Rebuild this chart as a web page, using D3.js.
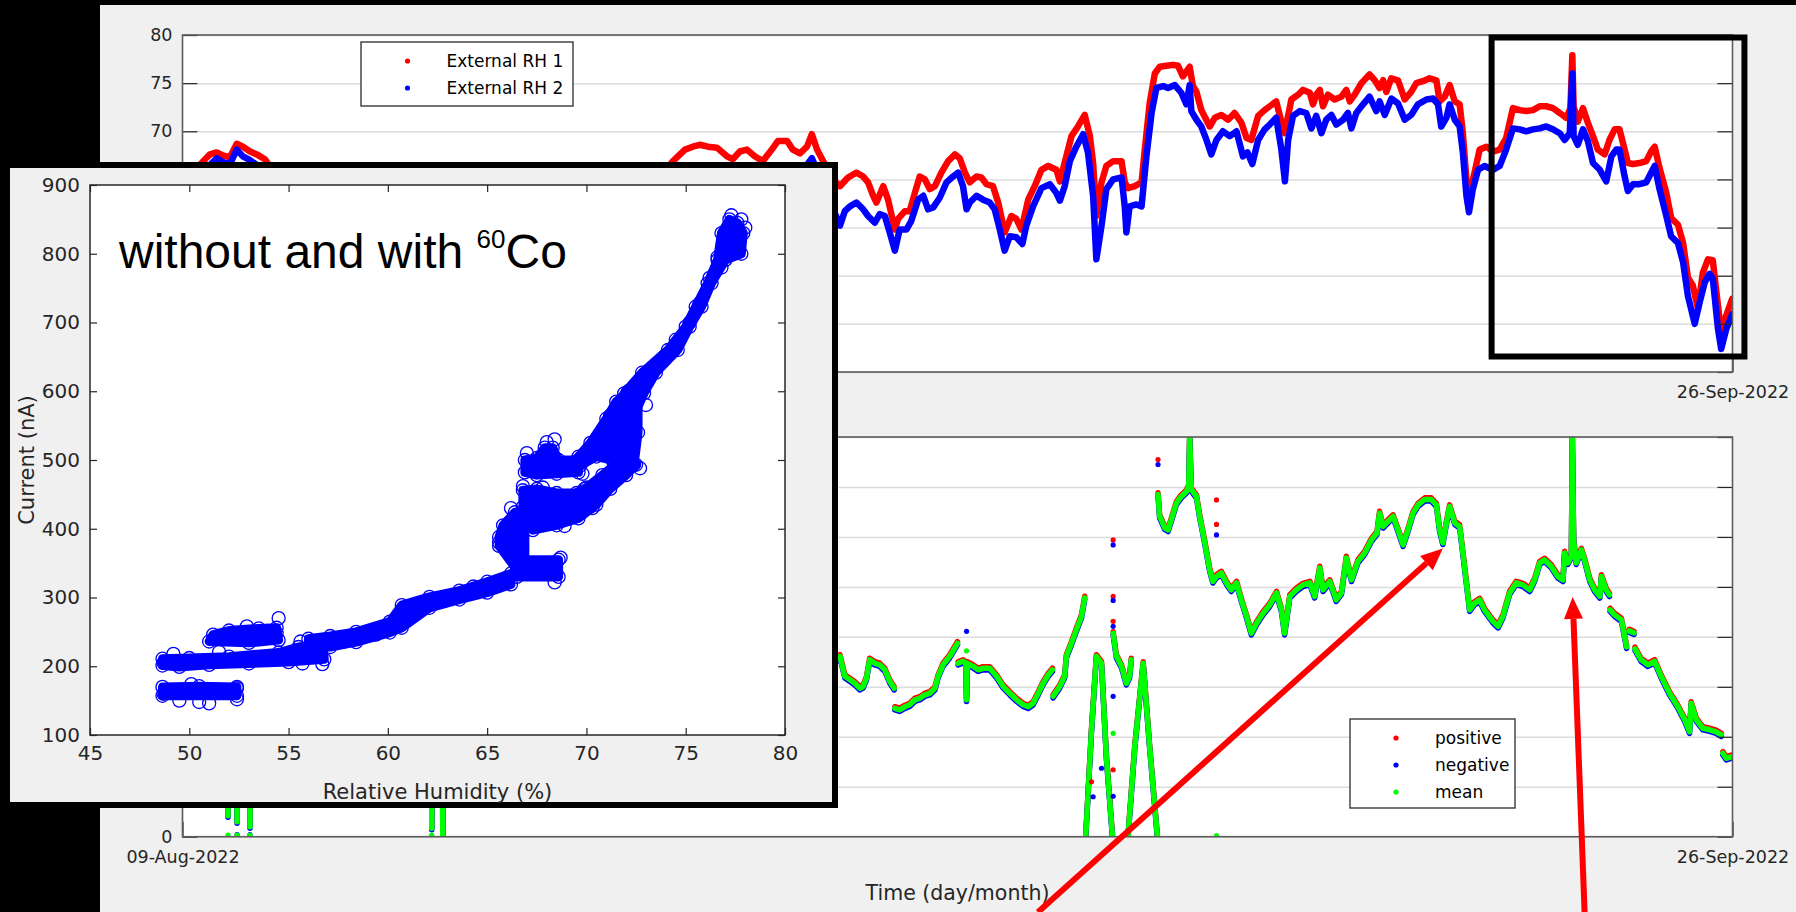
<!DOCTYPE html>
<html>
<head>
<meta charset="utf-8">
<script src="https://cdn.jsdelivr.net/npm/d3@7"></script>
<style>
  html, body { margin: 0; padding: 0; background: #000; }
  svg { display: block; }
</style>
</head>
<body>
<div id="chart"></div>
<script>
// Humidity / current monitoring, 09-Aug-2022 .. 26-Sep-2022
// time values are days after 09-Aug-2022 00:00

// ---- top panel: external RH (%)
const rh1 = [
  [0.00,64.5],[0.35,65.8],[0.70,67.1],[0.85,67.6],[1.06,67.8],[1.25,67.5],[1.47,67.3],[1.68,68.7],[1.87,68.4],[2.09,67.9],
  [2.30,67.6],[2.55,67.1],[2.90,65.4],[4.50,63.0],[7.00,61.5],[10.0,62.0],[12.5,63.5],[14.6,64.5],[15.19,66.9],[15.56,68.1],
  [15.80,68.4],[16.02,68.6],[16.27,68.4],[16.55,68.3],[16.86,67.4],[17.04,67.1],[17.26,67.9],[17.48,68.1],[17.72,67.4],[17.97,66.9],
  [18.25,68.1],[18.44,69.0],[18.72,69.0],[18.90,68.1],[19.12,67.7],[19.34,68.4],[19.49,69.7],[19.65,68.1],[19.81,67.1],[20.10,65.2],
  [20.36,64.3],[20.61,65.2],[20.87,65.7],[21.08,65.3],[21.23,64.7],[21.39,63.3],[21.49,62.6],[21.70,64.3],[21.85,62.9],[22.06,59.8],
  [22.16,60.9],[22.37,61.7],[22.52,61.7],[22.68,63.6],[22.83,65.3],[22.99,65.0],[23.14,64.0],[23.30,64.3],[23.50,65.7],[23.71,66.9],
  [23.92,67.6],[24.07,67.2],[24.23,65.7],[24.38,64.7],[24.59,65.3],[24.74,65.2],[24.90,64.5],[25.10,64.3],[25.26,62.6],[25.46,59.5],
  [25.67,61.2],[25.82,60.9],[25.98,59.8],[26.19,62.9],[26.39,64.3],[26.60,66.0],[26.81,66.4],[27.06,66.0],[27.17,64.8],[27.37,67.4],
  [27.53,69.5],[27.73,70.5],[27.94,71.7],[28.10,69.5],[28.20,66.7],[28.30,61.2],[28.46,64.7],[28.61,66.4],[28.82,66.9],[29.08,66.9],
  [29.18,64.7],[29.28,64.1],[29.49,64.3],[29.70,64.7],[29.80,68.1],[29.95,72.9],[30.11,76.0],[30.26,76.7],[30.47,76.8],[30.68,76.9],
  [30.83,76.8],[30.98,75.7],[31.19,76.7],[31.29,74.7],[31.40,74.1],[31.55,72.2],[31.81,70.5],[31.97,71.4],[32.17,71.7],[32.38,71.2],
  [32.58,71.9],[32.79,70.9],[32.95,69.3],[33.10,69.1],[33.31,71.6],[33.51,72.2],[33.67,72.6],[33.87,73.1],[34.03,71.0],[34.13,69.8],
  [34.34,73.3],[34.55,73.8],[34.70,74.3],[34.91,74.0],[35.01,72.8],[35.11,73.8],[35.22,74.3],[35.32,72.6],[35.47,73.8],[35.68,73.3],
  [35.89,73.6],[36.04,74.3],[36.15,73.1],[36.30,73.8],[36.51,75.0],[36.76,75.9],[36.92,75.3],[37.07,74.5],[37.18,75.3],[37.28,74.1],
  [37.43,75.5],[37.64,75.3],[37.85,73.3],[38.05,74.1],[38.21,75.0],[38.41,75.2],[38.62,75.5],[38.83,75.3],[38.93,73.1],[39.09,73.6],
  [39.24,74.8],[39.40,73.1],[39.55,72.8],[39.65,69.8],[39.76,65.0],[39.86,63.6],[40.01,65.7],[40.17,68.1],[40.38,68.4],[40.58,67.9],
  [40.79,68.1],[40.99,69.3],[41.20,72.4],[41.41,72.2],[41.61,72.1],[41.82,72.2],[42.03,72.6],[42.23,72.6],[42.44,72.4],[42.65,71.9],
  [42.85,71.4],[42.98,72.4],[43.04,77.9],[43.08,72.6],[43.21,71.0],[43.37,72.4],[43.52,70.9],[43.68,69.5],[43.83,68.1],[44.04,67.6],
  [44.19,69.1],[44.35,70.2],[44.50,70.2],[44.66,68.1],[44.76,66.7],[44.92,66.6],[45.12,66.7],[45.33,66.9],[45.48,67.9],[45.59,68.4],
  [45.74,66.2],[45.95,63.6],[46.10,61.0],[46.31,60.3],[46.47,58.4],[46.62,54.8],[46.77,54.0],[46.93,51.6],[47.08,55.3],[47.24,56.7],
  [47.39,56.6],[47.55,51.9],[47.65,49.1],[47.81,50.9],[47.99,52.6]
];
const rh2 = [
  [0.00,62.5],[0.50,64.5],[0.85,66.5],[1.06,67.2],[1.25,66.8],[1.47,66.6],[1.68,68.1],[1.87,67.4],[2.09,67.0],[2.30,66.5],
  [2.60,64.8],[4.50,61.0],[7.00,59.5],[10.0,60.0],[12.5,61.0],[14.6,62.5],[15.56,65.5],[16.02,66.2],[16.55,66.0],[17.26,65.5],
  [18.44,66.4],[18.72,66.4],[19.12,65.5],[19.49,67.2],[19.81,64.8],
  [20.36,60.2],[20.51,61.7],[20.67,62.2],[20.87,62.6],[21.08,61.9],[21.23,61.2],[21.44,60.5],[21.59,61.4],[21.75,61.2],[21.90,59.5],
  [22.06,57.6],[22.21,59.8],[22.42,59.8],[22.57,60.7],[22.78,62.9],[22.94,63.3],[23.09,61.9],[23.25,62.1],[23.45,63.1],[23.66,64.7],
  [23.86,65.3],[24.02,65.7],[24.17,64.3],[24.28,61.9],[24.38,62.6],[24.59,63.3],[24.79,62.9],[25.00,62.6],[25.15,61.9],[25.31,59.8],
  [25.46,57.6],[25.62,59.1],[25.82,59.0],[26.01,58.3],[26.13,60.2],[26.34,62.2],[26.60,64.1],[26.86,64.5],[27.06,63.6],[27.17,62.8],
  [27.32,64.3],[27.48,66.9],[27.68,68.4],[27.89,69.7],[28.04,67.8],[28.20,63.3],[28.30,56.7],[28.46,60.2],[28.61,64.0],[28.82,65.0],
  [29.08,65.2],[29.18,62.2],[29.23,59.5],[29.33,62.2],[29.54,62.4],[29.70,62.2],[29.85,67.4],[30.01,71.9],[30.16,74.5],[30.37,74.7],
  [30.52,74.5],[30.73,74.8],[30.93,74.0],[31.09,72.8],[31.19,74.8],[31.24,72.1],[31.40,71.2],[31.55,70.5],[31.71,69.1],[31.86,67.6],
  [32.02,69.1],[32.22,70.0],[32.43,69.5],[32.64,70.0],[32.84,67.4],[32.98,67.8],[33.13,66.6],[33.31,69.1],[33.51,70.2],[33.67,70.7],
  [33.87,71.4],[34.03,68.1],[34.14,64.8],[34.24,69.1],[34.39,71.6],[34.60,72.1],[34.80,71.9],[34.96,70.3],[35.11,71.6],[35.27,69.8],
  [35.42,71.2],[35.58,71.7],[35.73,70.7],[35.94,71.2],[36.09,71.9],[36.20,70.3],[36.35,71.9],[36.56,72.8],[36.76,73.6],[36.97,72.1],
  [37.07,73.1],[37.23,71.7],[37.44,73.4],[37.64,72.9],[37.85,71.2],[38.05,71.7],[38.26,72.8],[38.52,73.3],[38.73,73.4],[38.88,72.8],
  [38.98,70.5],[39.14,71.4],[39.24,72.8],[39.40,71.2],[39.55,70.5],[39.65,67.8],[39.76,63.3],[39.84,61.6],[39.96,64.0],[40.12,66.0],
  [40.32,66.4],[40.58,66.0],[40.79,66.4],[40.99,68.1],[41.20,70.3],[41.41,70.2],[41.61,70.0],[41.82,70.2],[42.03,70.3],[42.23,70.5],
  [42.44,70.2],[42.65,69.8],[42.80,69.1],[42.96,69.8],[43.04,76.0],[43.08,69.5],[43.21,68.6],[43.37,70.2],[43.52,69.0],[43.68,66.7],
  [43.89,66.0],[44.09,64.8],[44.25,67.4],[44.40,68.1],[44.50,68.1],[44.66,65.3],[44.76,63.8],[44.92,64.5],[45.12,64.5],[45.33,64.7],
  [45.48,65.7],[45.59,66.4],[45.74,64.0],[45.95,61.2],[46.10,59.1],[46.31,58.4],[46.47,56.4],[46.62,52.9],[46.83,50.0],[46.98,52.2],
  [47.14,54.3],[47.29,55.2],[47.39,54.7],[47.55,49.5],[47.65,47.4],[47.81,49.5],[47.99,51.0]
];

// ---- bottom panel: current (nA); null marks a gap in the record
const currentMean = [
  [0.00,210],[1.30,220],[1.39,230],[1.41,42],[1.43,230],[1.66,232],[1.68,230],[1.69,30],[1.70,230],[2.05,226],
  [2.08,225],[2.09,20],[2.10,225],[4.00,215],[7.60,205],[7.71,220],[7.72,17],[7.73,220],[8.03,215],[8.05,215],
  [8.06,0],[8.07,215],[12.0,190],[16.0,200],[20.0,340],
  [20.36,361],[20.51,321],[20.67,314],[20.82,307],[20.98,297],[21.08,301],[21.18,317],[21.28,354],[21.44,347],[21.59,344],
  [21.75,334],[21.90,311],[22.04,297],[22.05,null],
  [22.06,257],[22.21,254],[22.37,260],[22.52,264],[22.68,274],[22.83,277],[22.99,284],[23.14,287],[23.30,297],[23.40,321],
  [23.55,344],[23.76,361],[24.00,387],[24.01,null],
  [24.02,347],[24.17,351],[24.26,347],[24.28,274],[24.30,347],[24.48,341],[24.64,334],[24.79,337],[25.00,337],[25.21,321],
  [25.41,301],[25.62,287],[25.83,274],[26.03,264],[26.19,260],[26.34,267],[26.50,287],[26.65,307],[26.81,324],[26.94,334],
  [26.95,null],
  [26.96,281],[27.17,301],[27.32,321],[27.37,361],[27.53,387],[27.68,414],[27.84,441],[27.94,478],[27.95,null],
  [27.97,0],[28.15,214],[28.30,361],[28.46,347],[28.61,160],[28.80,0],[28.81,null],
  [28.82,407],[28.92,361],[29.08,341],[29.23,307],[29.33,321],[29.38,354],[29.39,null],
  [29.28,0],[29.49,180],[29.75,347],[29.95,180],[30.19,0],[30.20,null],
  [30.21,685],[30.26,641],[30.42,618],[30.52,614],[30.62,634],[30.78,668],[30.93,681],[31.09,691],[31.16,701],[31.19,800],
  [31.24,695],[31.40,681],[31.50,641],[31.66,588],[31.81,534],[31.91,511],[32.02,521],[32.17,528],[32.33,508],[32.48,494],
  [32.64,508],[32.79,474],[32.95,441],[33.10,407],[33.26,427],[33.46,447],[33.67,464],[33.88,488],[34.03,454],[34.13,407],
  [34.29,481],[34.49,494],[34.70,504],[34.91,508],[35.06,481],[35.22,538],[35.32,494],[35.53,511],[35.73,474],[35.89,488],
  [36.04,558],[36.20,514],[36.40,551],[36.61,568],[36.82,594],[36.99,608],[37.07,648],[37.18,621],[37.33,631],[37.49,641],
  [37.64,614],[37.80,584],[37.95,614],[38.11,648],[38.26,664],[38.47,675],[38.67,675],[38.83,664],[38.93,614],[39.03,588],
  [39.14,628],[39.24,661],[39.40,628],[39.55,621],[39.65,568],[39.76,508],[39.86,454],[40.01,467],[40.17,474],[40.32,454],
  [40.58,431],[40.74,421],[40.89,441],[41.10,488],[41.30,508],[41.51,504],[41.72,494],[41.87,514],[42.03,548],[42.18,554],
  [42.39,541],[42.59,521],[42.75,514],[42.80,568],[42.90,548],[43.01,561],[43.04,800],[43.08,594],[43.16,548],[43.32,574],
  [43.42,554],[43.58,514],[43.73,494],[43.89,481],[43.94,521],[44.09,494],[44.19,484],[44.20,null],
  [44.21,454],[44.35,444],[44.56,434],[44.72,380],[44.73,null],
  [44.80,412],[44.95,408],[44.96,null],
  [44.98,376],[45.17,354],[45.38,344],[45.59,351],[45.79,321],[46.05,287],[46.31,260],[46.52,234],[46.67,210],[46.72,267],
  [46.88,234],[47.08,217],[47.29,214],[47.49,210],[47.65,204],[47.66,null],
  [47.70,167],[47.81,157],[47.96,160]
];
// isolated samples off the main trace
const strayPositive = [[28.82,594],[28.82,481],[28.82,431],[28.82,134],[30.21,755],[32.02,674],[32.02,625],[28.15,110]];
const strayNegative = [[28.82,584],[28.82,473],[28.82,421],[28.82,281],[28.82,81],[30.21,745],[32.02,604],[24.28,411],[28.20,80],[28.46,137],[1.69,4],[2.09,4]];
const strayMean = [[28.82,207],[32.02,2],[1.41,3],[1.69,3],[2.09,3],[7.72,3],[24.28,372]];

// ---- inset: current (nA) vs relative humidity (%), dense clouds as outlines
const cloudLow = [[48.65,157],[52.4,157],[52.4,170],[50.5,171],[48.65,170]];
const cloudMid = [[48.65,201],[48.65,211],[50,212],[52,214],[54.5,220],[55.5,228],[56.7,232],[56.8,210],[55,206],[53,204],[51,202],[49.5,199]];
const cloudUpper = [[51.0,236],[51.2,246],[52,252],[53.5,255],[54.4,256],[54.5,238],[53,234]];
const cloudTrend = [[57.1,244],[58.4,250],[60.1,265],[60.7,289],[62.1,301],[63.6,310],[65,323],[66.2,335],
  [66.2,319],[65,307],[63.6,297],[62.1,285],[60.7,256],[60.1,249],[58.4,235],[57.1,228],[56.0,226],[56.0,240]];
const cloudStep = [[66.5,330],[68.6,330],[68.6,355],[66.5,355]];
const cloudColumn = [[65.6,375],[66.5,340],[66.9,340],[66.9,424],[66.4,424],[65.8,405],[65.6,388]];
const cloud450 = [[66.8,432],[66.8,456],[67.5,458],[68.5,452],[69.5,452],[70.2,455],[70.2,432],[69,428],[68,428]];
const cloudDiag = [[67.3,398],[68.5,405],[69.6,415],[70.5,435],[71.2,458],[72,478],[72.5,493],
  [72.3,510],[71.5,495],[70.8,478],[70,460],[69,445],[68,435],[67.2,420]];
const cloud500 = [[66.9,482],[66.9,500],[67.5,503],[67.9,518],[68.3,518],[68.6,500],[69.6,500],[69.6,482],[68.5,480],[67.5,478]];
const cloudHigh = [[69.7,492],[70.5,505],[71.3,500],[72.4,493],[72.6,540],[72.6,590],[72.1,600],[71.5,585],[71.0,560],[70.2,525],[69.6,505]];
const cloudTail = [[71.2,565],[71.9,597],[72.8,627],[74.1,660],[75.0,694],[75.5,723],[76.1,757],[76.6,791],[76.8,830],[77.2,850],
  [77.6,845],[77.9,830],[77.8,800],[77.0,791],[76.3,757],[75.8,723],[75.2,694],[74.6,660],[73.5,627],[72.9,597],[72.4,565]];
const insetPoints = [
  [48.7,205],[48.7,160],[49.5,150],[50.5,148],[51.0,146],[52.4,152],[52.4,168],[50.1,174],[49.2,218],[51.5,221],
  [54.5,270],[54.4,248],[52.9,258],[55.6,236],[56.7,203],[55.7,204],[57.8,236],[59.4,246],[61.0,282],[62.5,296],
  [64.3,316],[66.0,329],[68.4,322],[68.7,358],[65.6,380],[66.2,430],[66.8,462],[67.8,460],[68.9,404],[69.9,458],
  [70.3,430],[67.0,510],[68.0,526],[68.4,530],[69.8,480],[72.7,488],[73.0,580],[72.8,610],[73.3,630],[73.9,650],
  [74.5,675],[75.2,700],[75.7,728],[76.2,765],[76.6,795],[77.0,820],[77.3,856],[77.8,850],[78.0,838],[77.5,812],[76.8,780]
];

// ---- axes, labels, annotations
const dateTicks = ['2022-08-09', '2022-09-26'];
const rhTicks = [45, 50, 55, 60, 65, 70, 75, 80];
const currentTicks = [0, 100, 200, 300, 400, 500, 600, 700, 800];
const insetRHTicks = [45, 50, 55, 60, 65, 70, 75, 80];
const insetCurrentTicks = [100, 200, 300, 400, 500, 600, 700, 800, 900];
const topLegend = ['External RH 1', 'External RH 2'];
const bottomLegend = ['positive', 'negative', 'mean'];
const timeLabel = 'Time (day/month)';
const insetXLabel = 'Relative Humidity (%)';
const insetYLabel = 'Current (nA)';
const arrowTips = [[39.03, 577], [43.05, 480]];   // day, nA
const arrowTails = [[26.49, -151], [43.42, -151]];
const zoomWindow = [[40.54, 79.74], [48.37, 46.61]]; // day, RH

const W = 1796, H = 912;
const FONT = '"DejaVu Sans", sans-serif';
const COLORS = { red: '#ff0000', blue: '#0000ff', green: '#00ff00', ink: '#262626' };
const INSET = { x: 4, y: 162, w: 834, h: 646 };

const parse = d3.timeParse('%Y-%m-%d');
const t0 = parse(dateTicks[0]);
const toDate = d => new Date(t0.getTime() + d * 864e5);

// tick labels that end up under the inset panel are left out
const underInset = (px, py) => px > INSET.x && px < INSET.x + INSET.w && py > INSET.y && py < INSET.y + INSET.h;

const svg = d3.select('#chart').append('svg').attr('width', W).attr('height', H);
svg.append('rect').attr('width', W).attr('height', H).attr('fill', '#000');
svg.append('rect').attr('x', 100).attr('y', 5).attr('width', W - 100).attr('height', H - 5).attr('fill', '#f0f0f0');

const x = d3.scaleTime().domain(dateTicks.map(parse)).range([182.5, 1732.5]);
const yRH = d3.scaleLinear().domain([45, 80]).range([372, 35]);
const yCur = d3.scaleLinear().domain([0, 800]).range([836.7, 437]);
const dayX = d => x(toDate(d));
const dateFmt = d3.timeFormat('%d-%b-%Y');

function styleAxis(sel, size) {
    sel.attr('font-family', FONT).attr('font-size', size).attr('color', COLORS.ink);
    sel.select('.domain').remove();
    sel.selectAll('.tick line').attr('stroke', COLORS.ink).attr('stroke-width', 1.2);
}

// axes background, grid and clip for one time panel
function timePanel(yScale, yTicks, clipId) {
    const [x0, x1] = x.range();
    const [yb, yt] = yScale.range();
    const g = svg.append('g');
    g.append('clipPath').attr('id', clipId)
        .append('rect').attr('x', x0).attr('y', yt).attr('width', x1 - x0).attr('height', yb - yt);
    g.append('rect').attr('x', x0).attr('y', yt).attr('width', x1 - x0).attr('height', yb - yt).attr('fill', '#fff');
    g.append('g')
        .attr('transform', `translate(${x0},0)`)
        .call(d3.axisLeft(yScale).tickValues(yTicks).tickSize(-(x1 - x0)).tickFormat(''))
        .call(a => a.select('.domain').remove())
        .selectAll('line').attr('stroke', '#dcdcdc').attr('stroke-width', 1.5);
    return g;
}

function timeFrame(g, yScale, yTicks) {
    const [x0, x1] = x.range();
    const [yb, yt] = yScale.range();
    g.append('g').attr('transform', `translate(${x0},0)`)
        .call(d3.axisLeft(yScale).tickValues(yTicks).tickSize(-15).tickSizeOuter(0).tickPadding(10)
            .tickFormat(v => underInset(x0 - 20, yScale(v)) ? '' : v))
        .call(a => styleAxis(a, 17.5));
    g.append('g').attr('transform', `translate(${x1},0)`)
        .call(d3.axisRight(yScale).tickValues(yTicks).tickSize(-15).tickSizeOuter(0).tickFormat(''))
        .call(a => styleAxis(a, 17.5));
    g.append('g').attr('transform', `translate(0,${yb})`)
        .call(d3.axisBottom(x).tickValues(dateTicks.map(parse)).tickSize(-15).tickSizeOuter(0)
            .tickPadding(14).tickFormat(d => underInset(x(d), yb + 21) ? '' : dateFmt(d)))
        .call(a => styleAxis(a, 17.5));
    g.append('rect').attr('x', x0).attr('y', yt).attr('width', x1 - x0).attr('height', yb - yt)
        .attr('fill', 'none').attr('stroke', '#5c5c5c').attr('stroke-width', 1.6);
}

function drawLegend(items, colors, box, markerX, textX, rowY) {
    const g = svg.append('g');
    g.append('rect').attr('x', box[0]).attr('y', box[1]).attr('width', box[2]).attr('height', box[3])
        .attr('fill', '#fff').attr('stroke', '#3a3a3a').attr('stroke-width', 1.4);
    items.forEach((label, i) => {
        g.append('circle').attr('cx', markerX).attr('cy', rowY[i]).attr('r', 2.6).attr('fill', colors[i]);
        g.append('text').attr('x', textX).attr('y', rowY[i]).attr('dy', '0.36em')
            .attr('font-family', FONT).attr('font-size', 17).attr('fill', '#000').text(label);
    });
}

// ---------- top panel ----------
const topG = timePanel(yRH, rhTicks, 'clip-top');
const rhLine = d3.line().x(d => dayX(d[0])).y(d => yRH(d[1]));
const topData = topG.append('g').attr('clip-path', 'url(#clip-top)');
[[rh1, COLORS.red], [rh2, COLORS.blue]].forEach(([series, color]) => {
    topData.append('path').datum(series).attr('d', rhLine)
        .attr('fill', 'none').attr('stroke', color).attr('stroke-width', 6.5)
        .attr('stroke-linejoin', 'round').attr('stroke-linecap', 'round');
});
timeFrame(topG, yRH, rhTicks);
drawLegend(topLegend, [COLORS.red, COLORS.blue], [361, 42, 212, 64], 407.5, 446.5, [61, 88]);

// ---------- bottom panel ----------
const botG = timePanel(yCur, currentTicks, 'clip-bot');
const curLine = d3.line().defined(d => d[1] !== null).x(d => dayX(d[0])).y(d => yCur(d[1]));
const botData = botG.append('g').attr('clip-path', 'url(#clip-bot)');
// positive and negative channels sit on the mean at this scale; they show as a thin fringe
[[COLORS.red, -1.6], [COLORS.blue, 1.6], [COLORS.green, 0]].forEach(([color, shift]) => {
    botData.append('path').datum(currentMean).attr('d', curLine)
        .attr('transform', `translate(0,${shift})`)
        .attr('fill', 'none').attr('stroke', color).attr('stroke-width', 5.5)
        .attr('stroke-linejoin', 'round').attr('stroke-linecap', 'round');
});
[[strayPositive, COLORS.red], [strayNegative, COLORS.blue], [strayMean, COLORS.green]].forEach(([pts, color]) => {
    botData.selectAll(null).data(pts).enter().append('circle')
        .attr('cx', d => dayX(d[0])).attr('cy', d => yCur(d[1])).attr('r', 2.6).attr('fill', color);
});
timeFrame(botG, yCur, currentTicks);
svg.append('text').attr('x', d3.mean(x.range())).attr('y', 893).attr('dy', '0.36em')
    .attr('text-anchor', 'middle').attr('font-family', FONT).attr('font-size', 20.5)
    .attr('fill', COLORS.ink).text(timeLabel);
drawLegend(bottomLegend, [COLORS.red, COLORS.blue, COLORS.green], [1350, 719, 165, 89], 1396, 1435, [738, 765, 792]);

// zoomed-window marker on the RH panel
svg.append('rect')
    .attr('x', dayX(zoomWindow[0][0])).attr('y', yRH(zoomWindow[0][1]))
    .attr('width', dayX(zoomWindow[1][0]) - dayX(zoomWindow[0][0]))
    .attr('height', yRH(zoomWindow[1][1]) - yRH(zoomWindow[0][1]))
    .attr('fill', 'none').attr('stroke', '#000').attr('stroke-width', 6);

// ---------- inset: current vs RH ----------
const ix = d3.scaleLinear().domain([45, 80]).range([90, 785]);
const iy = d3.scaleLinear().domain([100, 900]).range([735, 185]);
const inset = svg.append('g');
inset.append('rect').attr('x', INSET.x + 3).attr('y', INSET.y + 3).attr('width', INSET.w - 6).attr('height', INSET.h - 6)
    .attr('fill', '#f0f0f0').attr('stroke', '#000').attr('stroke-width', 6);
inset.append('clipPath').attr('id', 'clip-inset')
    .append('rect').attr('x', 90).attr('y', 185).attr('width', 695).attr('height', 550);
inset.append('rect').attr('x', 90).attr('y', 185).attr('width', 695).attr('height', 550).attr('fill', '#fff');

const insetData = inset.append('g').attr('clip-path', 'url(#clip-inset)');
const cloudPath = d3.line().x(d => ix(d[0])).y(d => iy(d[1])).curve(d3.curveLinearClosed);
const clouds = [cloudLow, cloudMid, cloudUpper, cloudTrend, cloudStep, cloudColumn, cloud450, cloudDiag, cloud500, cloudHigh, cloudTail];
insetData.selectAll('path.cloud').data(clouds).enter().append('path')
    .attr('class', 'cloud').attr('d', cloudPath)
    .attr('fill', COLORS.blue).attr('stroke', COLORS.blue).attr('stroke-width', 9)
    .attr('stroke-linejoin', 'round');
const ringPoints = clouds.flat().concat(insetPoints);
insetData.selectAll('circle').data(ringPoints).enter().append('circle')
    .attr('cx', d => ix(d[0])).attr('cy', d => iy(d[1])).attr('r', 6.5)
    .attr('fill', 'none').attr('stroke', COLORS.blue).attr('stroke-width', 1.3);

inset.append('g').attr('transform', 'translate(90,0)')
    .call(d3.axisLeft(iy).tickValues(insetCurrentTicks).tickSize(-7).tickSizeOuter(0).tickPadding(10))
    .call(a => styleAxis(a, 20));
inset.append('g').attr('transform', 'translate(785,0)')
    .call(d3.axisRight(iy).tickValues(insetCurrentTicks).tickSize(-7).tickSizeOuter(0).tickFormat(''))
    .call(a => styleAxis(a, 20));
inset.append('g').attr('transform', 'translate(0,735)')
    .call(d3.axisBottom(ix).tickValues(insetRHTicks).tickSize(-7).tickSizeOuter(0).tickPadding(11))
    .call(a => styleAxis(a, 20));
inset.append('g').attr('transform', 'translate(0,185)')
    .call(d3.axisTop(ix).tickValues(insetRHTicks).tickSize(-7).tickSizeOuter(0).tickFormat(''))
    .call(a => styleAxis(a, 20));
inset.append('rect').attr('x', 90).attr('y', 185).attr('width', 695).attr('height', 550)
    .attr('fill', 'none').attr('stroke', COLORS.ink).attr('stroke-width', 1.5);

inset.append('text').attr('x', d3.mean(ix.range())).attr('y', 791).attr('dy', '0.36em')
    .attr('text-anchor', 'middle').attr('font-family', FONT).attr('font-size', 21)
    .attr('fill', COLORS.ink).text(insetXLabel);
inset.append('text').attr('transform', `translate(26,${d3.mean(iy.range())}) rotate(-90)`)
    .attr('dy', '0.36em').attr('text-anchor', 'middle').attr('font-family', FONT).attr('font-size', 21)
    .attr('fill', COLORS.ink).text(insetYLabel);

const title = inset.append('text').attr('x', 119).attr('y', 268)
    .attr('font-family', '"Liberation Sans", Arial, sans-serif').attr('font-size', 48).attr('fill', '#000');
title.append('tspan').text('without and with ');
title.append('tspan').attr('font-size', 26).attr('dy', -20).text('60');
title.append('tspan').attr('dy', 20).text('Co');

// ---------- red arrows ----------
arrowTips.forEach((tip, i) => {
    const tx = dayX(tip[0]), ty = yCur(tip[1]);
    const sx = dayX(arrowTails[i][0]), sy = yCur(arrowTails[i][1]);
    const ang = Math.atan2(ty - sy, tx - sx);
    const hl = 22, hw = 9.5;
    const bx = tx - hl * Math.cos(ang), by = ty - hl * Math.sin(ang);
    svg.append('line').attr('x1', sx).attr('y1', sy).attr('x2', bx).attr('y2', by)
        .attr('stroke', COLORS.red).attr('stroke-width', 6);
    svg.append('path')
        .attr('d', `M${tx},${ty}L${bx + hw * Math.sin(ang)},${by - hw * Math.cos(ang)}L${bx - hw * Math.sin(ang)},${by + hw * Math.cos(ang)}Z`)
        .attr('fill', COLORS.red);
});
</script>
</body>
</html>
